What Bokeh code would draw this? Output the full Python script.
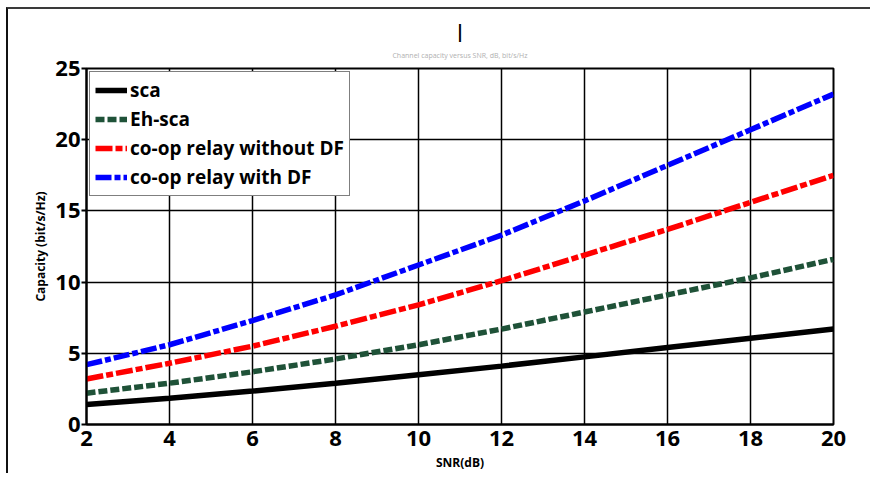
from bokeh.plotting import figure
from bokeh.models import Legend, LegendItem, Title, FixedTicker
from bokeh.embed import file_html
from bokeh.resources import INLINE

snr = [2, 4, 6, 8, 10, 12, 14, 16, 18, 20]
sca = [1.4, 1.85, 2.35, 2.9, 3.5, 4.1, 4.75, 5.4, 6.05, 6.7]
eh_sca = [2.2, 2.9, 3.7, 4.6, 5.6, 6.7, 7.9, 9.1, 10.3, 11.6]
relay_no_df = [3.2, 4.3, 5.5, 6.9, 8.4, 10.1, 11.9, 13.7, 15.6, 17.5]
relay_df = [4.2, 5.6, 7.3, 9.1, 11.2, 13.3, 15.7, 18.2, 20.7, 23.2]
x_ticks = [2, 4, 6, 8, 10, 12, 14, 16, 18, 20]
y_ticks = [0, 5, 10, 15, 20, 25]
labels = ["sca", "Eh-sca", "co-op relay without DF", "co-op relay with DF"]
x_title = "SNR(dB)"
y_title = "Capacity (bit/s/Hz)"
title_main = "|"
title_sub = "Channel capacity versus SNR, dB, bit/s/Hz"

FONT = "Open Sans"

p = figure(width=864, height=466, output_backend="svg", toolbar_location=None,
           x_range=(2, 20), y_range=(0, 25),
           min_border_left=78, min_border_top=59, min_border_right=39, min_border_bottom=51)
p.margin = (7, 0, 0, 6)
p.styles = {"border-top": "2px solid #3a3a3a", "border-left": "2px solid #111111"}

p.outline_line_color = "black"
p.outline_line_width = 2
p.outline_line_alpha = 1

for ax in (p.xaxis, p.yaxis):
    ax.axis_line_color = "black"
    ax.axis_line_width = 2
    ax.major_tick_line_color = "black"
    ax.major_tick_line_width = 2
    ax.minor_tick_line_color = None
    ax.major_tick_in = 0
    ax.major_label_text_font = FONT
    ax.major_label_text_font_style = "bold"
    ax.major_label_text_font_size = "22px"
    ax.major_label_text_color = "black"
    ax.axis_label_text_font = FONT
    ax.axis_label_text_font_style = "bold"
    ax.axis_label_text_font_size = "12px"
    ax.axis_label_text_color = "black"

p.xaxis.ticker = FixedTicker(ticks=x_ticks)
p.yaxis.ticker = FixedTicker(ticks=y_ticks)
p.xaxis.major_tick_out = 0
p.yaxis.major_tick_out = 5
p.xaxis.major_label_standoff = 6
p.yaxis.major_label_standoff = 1
p.xaxis.axis_label = x_title
p.yaxis.axis_label = y_title
p.xaxis.axis_label_standoff = 5
p.yaxis.axis_label_standoff = 3

p.xgrid.ticker = FixedTicker(ticks=x_ticks)
p.ygrid.ticker = FixedTicker(ticks=y_ticks)
for g in (p.xgrid, p.ygrid):
    g.grid_line_color = "black"
    g.grid_line_width = 1.5
    g.grid_line_alpha = 1

r1 = p.line(snr, sca, line_color="black", line_width=5.5)
r2 = p.line(snr, eh_sca, line_color="#1f5238", line_width=5.5, line_dash="9 3", line_cap="butt")
r3 = p.line(snr, relay_no_df, line_color="#ff0000", line_width=5.5, line_dash="17 3 7 3", line_cap="butt")
r4 = p.line(snr, relay_df, line_color="#0000ff", line_width=5.5, line_dash="16 3 6 3", line_cap="butt")

legend = Legend(items=[LegendItem(label=l, renderers=[r]) for l, r in zip(labels, [r1, r2, r3, r4])],
                location="top_left")
legend.label_text_font = FONT
legend.label_text_font_style = "bold"
legend.label_text_font_size = "19px"
legend.label_text_color = "black"
legend.glyph_width = 32
legend.glyph_height = 26
legend.label_height = 26
legend.spacing = 3
legend.padding = 5
legend.margin = 3
legend.label_standoff = 3
legend.border_line_color = "black"
legend.border_line_width = 1.5
legend.background_fill_alpha = 1
p.add_layout(legend, "center")

p.title.text = title_main
p.title.align = "center"
p.title.text_font = FONT
p.title.text_font_size = "18px"
p.title.text_font_style = "bold"
p.title.text_color = "black"
p.title.standoff = -6
p.add_layout(Title(text=title_sub, align="center", text_font=FONT, text_font_size="7px",
                   text_font_style="normal", text_color="#b0b0b0", standoff=18), "above")

open("out.html", "w").write(file_html(p, INLINE))
